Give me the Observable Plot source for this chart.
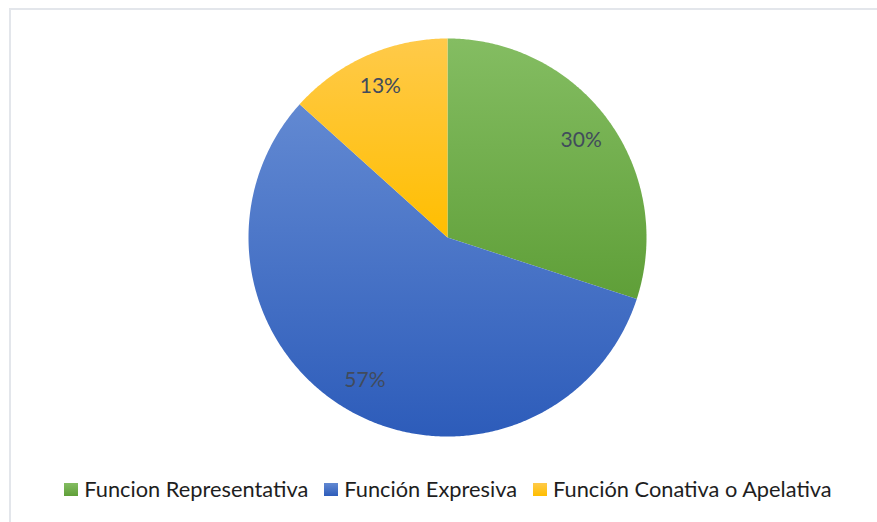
<!DOCTYPE html>
<html>
<head>
<meta charset="utf-8">
<script src="https://cdn.jsdelivr.net/npm/d3@7"></script>
<script src="https://cdn.jsdelivr.net/npm/@observablehq/plot@0.6"></script>
<style>
  html, body { margin: 0; padding: 0; background: #fff; }
  #wrap { position: relative; width: 877px; height: 522px; overflow: hidden; font-family: Lato, "Noto Sans", sans-serif; }
  #frame { position: absolute; left: 9px; top: 8px; width: 900px; height: 600px; border: 2px solid #e3e6eb; box-sizing: border-box; pointer-events: none; }
  #chart { position: absolute; left: 0; top: 0; }
  #legend { position: absolute; left: 9px; top: 471px; width: 878px; height: 36px; display: flex; justify-content: center; align-items: center; }
  .item { display: flex; align-items: center; margin: 0 8px; }
  .sw { width: 14px; height: 13px; margin-right: 6px; }
  .lab { font-size: 21.8px; color: #1e1e1e; line-height: 24px; }
</style>
</head>
<body>
<div id="wrap">
  <div id="chart"></div>
  <div id="legend"></div>
  <div id="frame"></div>
</div>
<script>
const categories = ["Funcion Representativa", "Función Expresiva", "Función Conativa o Apelativa"];
const values = [9, 17, 4];

const gradTop = ["#84bd62", "#6289d2", "#ffca4a"];
const gradBottom = ["#5f9f38", "#2d5cba", "#ffbe00"];

const total = d3.sum(values);
const arcs = d3.pie().sort(null).startAngle(0).endAngle(2 * Math.PI)(values);

// polygon points for each slice in unit-circle coordinates
function slicePoints(a, i) {
  const pts = [{x: 0, y: 0, i}];
  const n = Math.max(2, Math.ceil((a.endAngle - a.startAngle) / (Math.PI / 360)));
  for (let k = 0; k <= n; k++) {
    const t = a.startAngle + (a.endAngle - a.startAngle) * k / n;
    pts.push({x: Math.sin(t), y: Math.cos(t), i});
  }
  pts.push({x: 0, y: 0, i});
  return pts;
}

const labelR = 0.83;
const labels = arcs.map((a, i) => {
  const m = (a.startAngle + a.endAngle) / 2;
  return {x: labelR * Math.sin(m), y: labelR * Math.cos(m), text: Math.round(values[i] / total * 100) + "%"};
});

const plot = Plot.plot({
  width: 877,
  height: 460,
  marginLeft: 248,
  marginRight: 231,
  marginTop: 38,
  marginBottom: 24,
  x: {domain: [-1, 1], axis: null},
  y: {domain: [-1, 1], axis: null},
  marks: [
    ...arcs.map((a, i) => Plot.line(slicePoints(a, i), {
      x: "x", y: "y", fill: `url(#grad${i})`, stroke: "none", curve: "linear"
    })),
    Plot.text(labels, {x: "x", y: "y", text: "text", fontSize: 21, fill: "#414b5c", fontFamily: "Lato"})
  ]
});

const svg = d3.select(plot);
const defs = svg.insert("defs", ":first-child");
categories.forEach((c, i) => {
  const g = defs.append("linearGradient").attr("id", "grad" + i)
    .attr("x1", 0).attr("y1", 0).attr("x2", 0).attr("y2", 1);
  g.append("stop").attr("offset", "0%").attr("stop-color", gradTop[i]);
  g.append("stop").attr("offset", "100%").attr("stop-color", gradBottom[i]);
});
document.getElementById("chart").appendChild(plot);

const legend = d3.select("#legend");
categories.forEach((c, i) => {
  const it = legend.append("div").attr("class", "item");
  it.append("div").attr("class", "sw").style("background", `linear-gradient(${gradTop[i]}, ${gradBottom[i]})`);
  it.append("span").attr("class", "lab").text(c);
});
</script>
</body>
</html>
